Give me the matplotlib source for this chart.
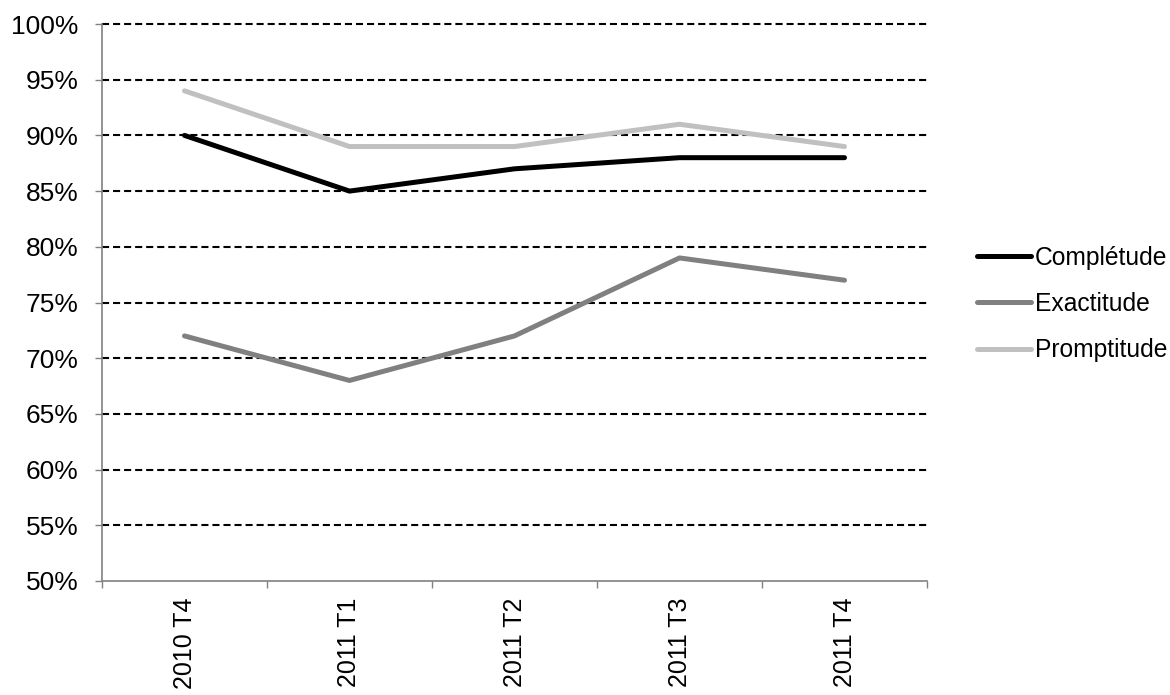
import numpy as np
import matplotlib
matplotlib.use('Agg')
import matplotlib.pyplot as plt
from matplotlib.ticker import FixedLocator, PercentFormatter

plt.rcParams['font.family'] = ['Liberation Sans', 'DejaVu Sans']
plt.rcParams['font.size'] = 18.5

quarters = ['2010 T4', '2011 T1', '2011 T2', '2011 T3', '2011 T4']
completude = [90, 85, 87, 88, 88]
exactitude = [72, 68, 72, 79, 77]
promptitude = [94, 89, 89, 91, 89]
y_ticks = list(range(50, 101, 5))

fig = plt.figure(figsize=(11.7, 6.95), dpi=100)
ax = fig.add_axes([102 / 1170, 1 - 581 / 695, (927 - 102) / 1170, (581 - 24) / 695])

x = np.arange(len(quarters))
ax.plot(x, completude, color='black', lw=3.6, label='Complétude', solid_capstyle='round')
ax.plot(x, exactitude, color='#808080', lw=3.6, label='Exactitude', solid_capstyle='round')
ax.plot(x, promptitude, color='#c0c0c0', lw=3.6, label='Promptitude', solid_capstyle='round')

ax.set_xlim(-0.5, len(quarters) - 0.5)
ax.set_ylim(50, 100)
ax.set_yticks(y_ticks)
ax.yaxis.set_major_formatter(PercentFormatter(decimals=0))
ax.tick_params(axis='y', labelsize=19)
# dashed gridlines, the top one drawn in full over the axes edge
for yv in y_ticks[1:]:
    ax.axhline(yv, color='black', lw=1.5, ls=(0, (3.4, 1.9)), zorder=0, clip_on=False)

ax.set_xticks(x)
ax.set_xticklabels(quarters, rotation=90)
ax.xaxis.set_minor_locator(FixedLocator(np.arange(-0.5, len(quarters), 1.0)))
ax.tick_params(axis='x', which='major', length=0, pad=12, labelsize=18)
ax.tick_params(axis='x', which='minor', length=5, width=1, color='#808080')
ax.tick_params(axis='y', length=5, width=1, color='#808080', pad=12)

for side in ('top', 'right'):
    ax.spines[side].set_visible(False)
for side in ('left', 'bottom'):
    ax.spines[side].set_color('#808080')
    ax.spines[side].set_linewidth(1.2)

fig.legend(loc='center left', bbox_to_anchor=(977 / 1170, 1 - 304 / 695), frameon=False,
           fontsize=17.7, handlelength=2.2, handletextpad=0.15, labelspacing=0.9,
           borderpad=0, borderaxespad=0)

fig.savefig('out.png', dpi=100)
